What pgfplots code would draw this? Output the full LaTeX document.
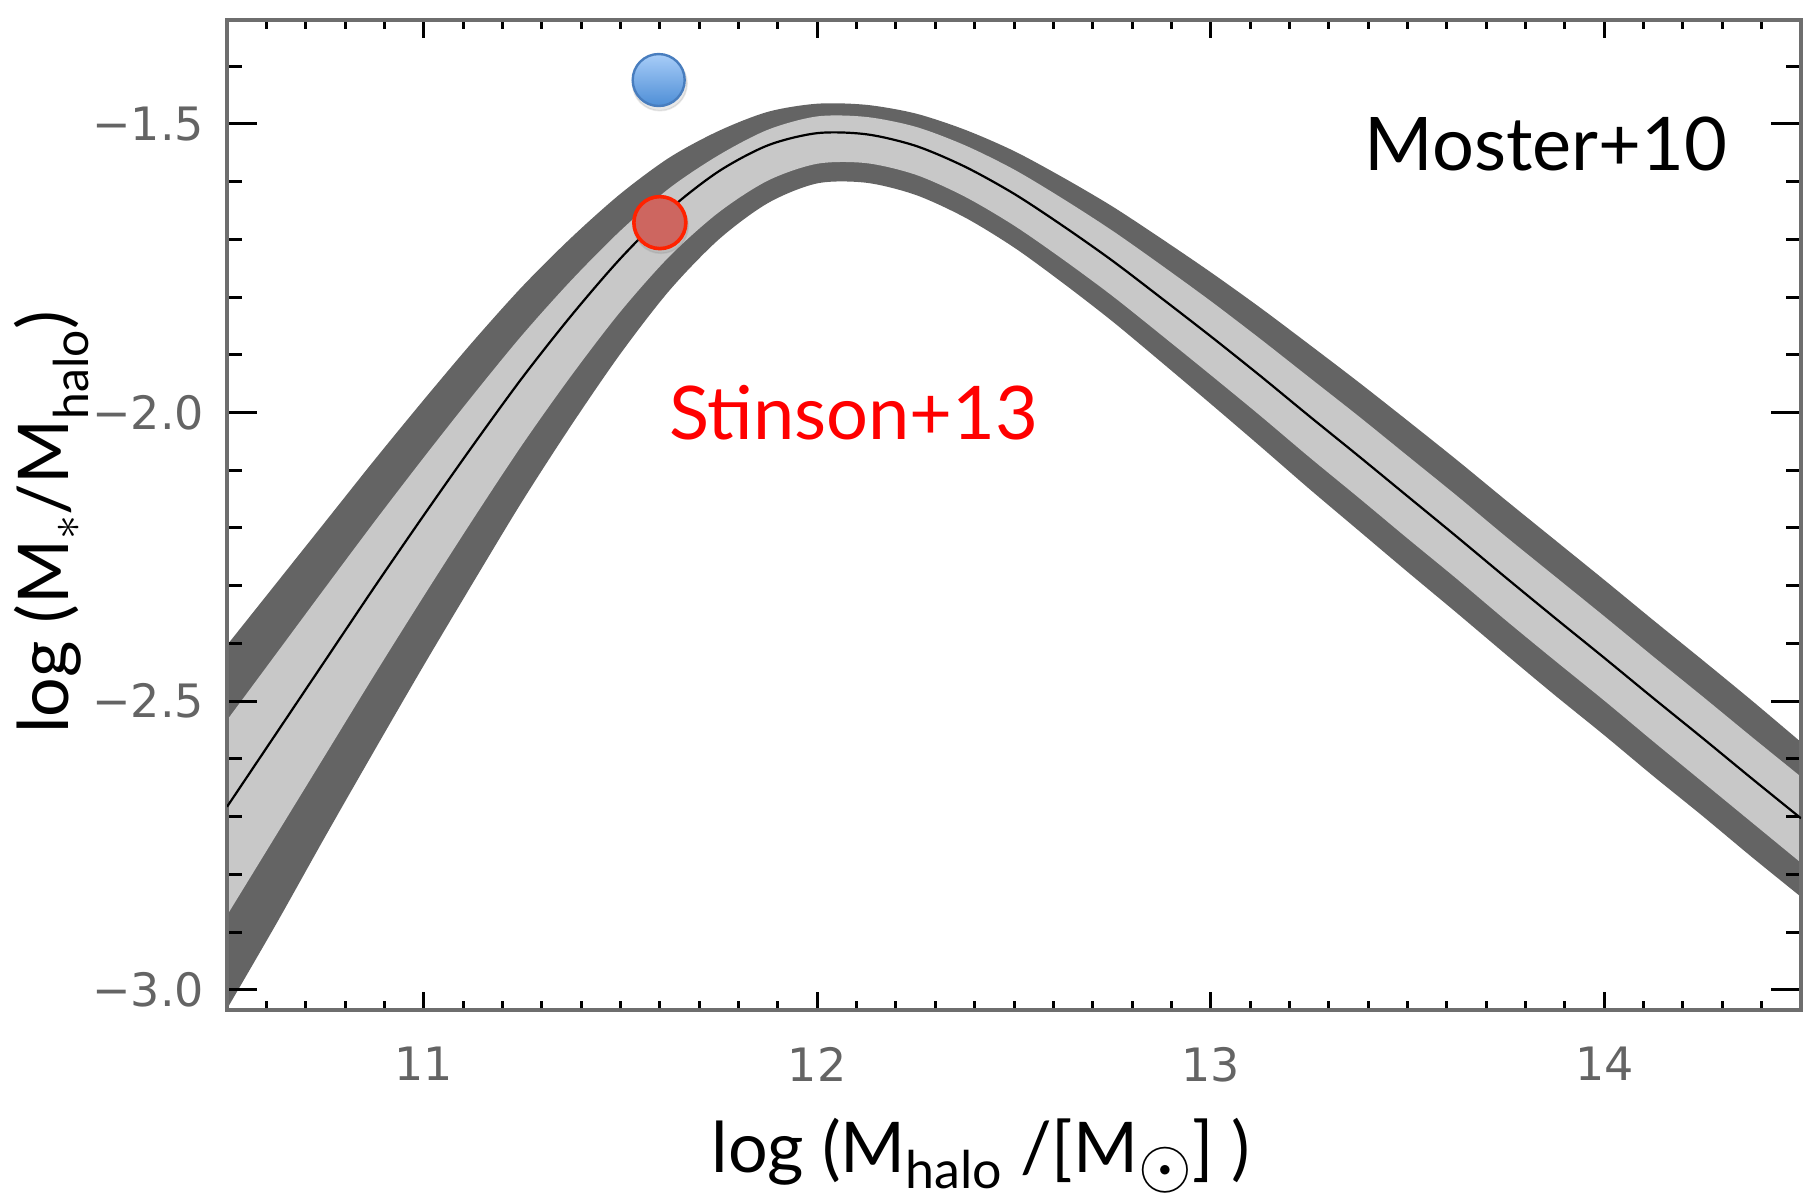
\documentclass[border=0pt]{standalone}
\usepackage{fontspec}
\setmainfont{Lato}
\newfontfamily\tickfont{DejaVu Sans}
\usepackage{pgfplots}
\usepackage{pgfplotstable}
\pgfplotsset{compat=1.18}
\usepgfplotslibrary{fillbetween}

\definecolor{bandDark}{RGB}{100,100,100}
\definecolor{bandLight}{RGB}{200,200,200}
\definecolor{axisGray}{RGB}{110,110,110}
\definecolor{tickGray}{RGB}{100,100,100}
\definecolor{blueTop}{RGB}{168,205,248}
\definecolor{blueBot}{RGB}{78,142,214}
\definecolor{blueEdge}{RGB}{72,125,190}
\definecolor{redFill}{RGB}{205,102,96}
\definecolor{redEdge}{RGB}{255,34,0}

\pgfdeclareverticalshading{bluegrad}{100bp}{color(0bp)=(blueBot); color(25bp)=(blueBot); color(75bp)=(blueTop); color(100bp)=(blueTop)}
\pgfdeclareplotmark{bluecirc}{%
  \pgfpathcircle{\pgfpointorigin}{\pgfplotmarksize}%
  \pgfshadepath{bluegrad}{0}%
  \pgfsetstrokecolor{blueEdge}%
  \pgfusepath{stroke}%
}

\newcommand{\lsub}[3]{\raisebox{-#1}{\fontsize{#2}{#2}\selectfont #3}}

\pgfplotstableread{
x dp lp c lm dm
10.5 -2.403 -2.533 -2.683 -2.871 -3.033
10.625 -2.296 -2.418 -2.556 -2.732 -2.886
10.75 -2.189 -2.303 -2.429 -2.593 -2.734
10.875 -2.082 -2.189 -2.302 -2.454 -2.585
11.0 -1.978 -2.078 -2.178 -2.318 -2.438
11.125 -1.877 -1.970 -2.057 -2.185 -2.295
11.25 -1.782 -1.866 -1.940 -2.056 -2.154
11.375 -1.697 -1.771 -1.832 -1.936 -2.022
11.5 -1.621 -1.685 -1.733 -1.825 -1.898
11.625 -1.558 -1.611 -1.648 -1.729 -1.788
11.75 -1.512 -1.554 -1.582 -1.653 -1.700
11.875 -1.479 -1.510 -1.537 -1.598 -1.637
12.0 -1.465 -1.487 -1.516 -1.569 -1.603
12.125 -1.467 -1.488 -1.518 -1.568 -1.602
12.25 -1.482 -1.505 -1.538 -1.588 -1.623
12.375 -1.510 -1.537 -1.574 -1.626 -1.662
12.5 -1.547 -1.579 -1.621 -1.676 -1.714
12.625 -1.593 -1.630 -1.677 -1.735 -1.776
12.75 -1.643 -1.685 -1.737 -1.798 -1.842
12.875 -1.699 -1.745 -1.802 -1.866 -1.913
13.0 -1.757 -1.807 -1.868 -1.935 -1.985
13.125 -1.818 -1.872 -1.936 -2.005 -2.058
13.25 -1.882 -1.939 -2.006 -2.077 -2.132
13.375 -1.947 -2.006 -2.075 -2.147 -2.204
13.5 -2.014 -2.075 -2.145 -2.218 -2.276
13.625 -2.082 -2.144 -2.215 -2.288 -2.347
13.75 -2.152 -2.215 -2.286 -2.360 -2.419
13.875 -2.221 -2.284 -2.356 -2.430 -2.490
14.0 -2.290 -2.353 -2.425 -2.499 -2.559
14.125 -2.360 -2.423 -2.495 -2.570 -2.630
14.25 -2.429 -2.492 -2.564 -2.640 -2.699
14.375 -2.499 -2.562 -2.634 -2.710 -2.770
14.5 -2.571 -2.631 -2.703 -2.780 -2.839
}\moster

\begin{document}
\begin{tikzpicture}
% axis A: y ticks (drawn first, so bands cover them)
\begin{axis}[
  name=A, at={(0,0)}, anchor=south west,
  scale only axis, width=393.5pt, height=247.5pt,
  xmin=10.5, xmax=14.5, ymin=-3.035, ymax=-1.32,
  xtick=\empty,
  ytick={-3,-2.5,-2,-1.5},
  yticklabels={−3.0,−2.5,−2.0,−1.5},
  minor ytick={-2.9,-2.8,-2.7,-2.6,-2.4,-2.3,-2.2,-2.1,-1.9,-1.8,-1.7,-1.6,-1.4},
  major tick length=7.5pt, minor tick length=3.75pt,
  tick style={black, line width=0.75pt},
  axis line style={draw=axisGray, line width=1pt},
  yticklabel style={font=\tickfont\fontsize{11.5}{13}\selectfont, text=tickGray, xshift=-2.2pt},
]
\end{axis}
% axis B: x ticks, data, labels
\begin{axis}[
  at={(A.south west)}, anchor=south west,
  scale only axis, width=393.5pt, height=247.5pt,
  xmin=10.5, xmax=14.5, ymin=-3.035, ymax=-1.32,
  clip mode=individual,
  ytick=\empty,
  xtick={11,12,13,14},
  xticklabels={11,12,13,14},
  minor xtick={10.6,10.7,10.8,10.9,11.1,11.2,11.3,11.4,11.5,11.6,11.7,11.8,11.9,12.1,12.2,12.3,12.4,12.5,12.6,12.7,12.8,12.9,13.1,13.2,13.3,13.4,13.5,13.6,13.7,13.8,13.9,14.1,14.2,14.3,14.4},
  major tick length=4.5pt, minor tick length=2.2pt,
  tick style={black, line width=0.75pt},
  axis line style={draw=axisGray, line width=1pt},
  xticklabel style={font=\tickfont\fontsize{11.5}{13}\selectfont, text=tickGray, yshift=-5.7pt},
]
\addplot[draw=none, name path=dp, smooth] table[x=x, y=dp]{\moster};
\addplot[draw=none, name path=lp, smooth] table[x=x, y=lp]{\moster};
\addplot[draw=none, name path=lm, smooth] table[x=x, y=lm]{\moster};
\addplot[draw=none, name path=dm, smooth] table[x=x, y=dm]{\moster};
\addplot[fill=bandDark, draw=none] fill between[of=dp and dm];
\addplot[fill=bandLight, draw=none] fill between[of=lp and lm];
\addplot[black, line width=0.55pt, smooth] table[x=x, y=c]{\moster};

% soft shadows
\addplot[only marks, mark=*, mark size=6.8pt, mark options={fill=gray, draw=gray, opacity=0.18}] coordinates {(11.600,-1.430) (11.603,-1.677)};
% Stinson+13 points
\addplot[only marks, mark=bluecirc, mark size=6.5pt, mark options={line width=0.6pt}] coordinates {(11.597,-1.424)};
\addplot[only marks, mark=*, mark size=6.5pt, mark options={fill=redFill, draw=redEdge, line width=0.9pt}] coordinates {(11.600,-1.671)};

\node[anchor=base, font=\fontsize{18.5}{20}\selectfont] at (axis cs:13.852,-1.581) {Moster+10};
\node[anchor=base, text=red, font=\fontsize{18.5}{20}\selectfont] at (axis cs:12.093,-2.046) {Stinson+13};

\node[anchor=base, font=\fontsize{17.5}{19}\selectfont] at (axis description cs:0.479,-0.164)
  {log (M\lsub{4pt}{13}{halo} /[M\raisebox{-3.8pt}{\fontsize{16}{16}\selectfont$\odot$}] )};
\node[anchor=base, rotate=90, font=\fontsize{17.5}{19}\selectfont] at (axis description cs:-0.101,0.4924)
  {log (M\raisebox{-3pt}{\fontsize{13}{13}\selectfont$\ast$}/M\lsub{5pt}{12}{halo})};
\end{axis}
\pgfresetboundingbox
\path (A.south west) ++(-56.75pt,-47.75pt) rectangle ++(454pt,300.25pt);
\end{tikzpicture}
\end{document}
